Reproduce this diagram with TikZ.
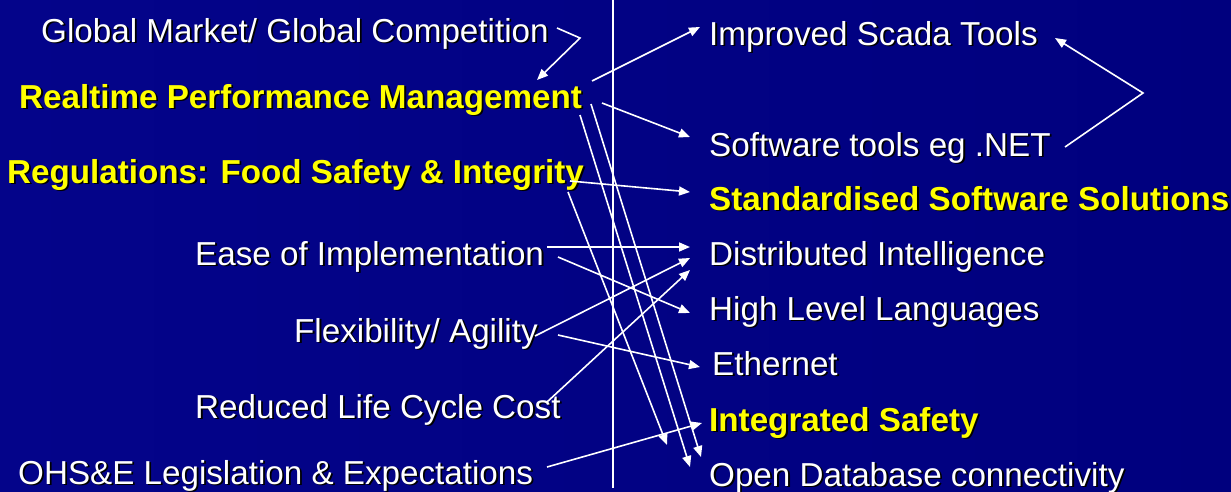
\documentclass[tikz,border=0pt]{standalone}
\usepackage{fontspec}
\setmainfont{Liberation Sans}
\usetikzlibrary{arrows.meta}
\newcommand\shtx[1]{\leavevmode\rlap{\kern1.8pt\raisebox{-1.8pt}{\color{black}#1}}#1}
\definecolor{bgl}{RGB}{4,4,138}
\definecolor{bgr}{RGB}{0,0,126}
\definecolor{ylw}{RGB}{255,255,0}
\begin{document}
\begin{tikzpicture}[x=1pt,y=-1pt,
 lbl/.style={anchor=base west, inner sep=0pt, text=white, font=\fontsize{33.2}{40}\selectfont},
 blbl/.style={lbl, text=ylw, font=\fontsize{33.2}{40}\selectfont\bfseries},
 conn/.style={draw=white, line width=1.6pt, -{Triangle[length=11pt,width=9pt]}},
 plainln/.style={draw=white, line width=1.6pt}]
\shade[left color=bgl,right color=bgr] (0,0) rectangle (1231,491);
\useasboundingbox (0,0) rectangle (1231,491);
% divider
\coordinate (vt) at (613,0);
\coordinate (vb) at (613,488);
\draw[plainln] (vt) -- (vb);
% left column
\node[lbl]  (gm)  at (41,42)  {\shtx{Global Market/ Global Competition}};
\node[blbl] (rpm) at (19,108) {\shtx{Realtime Performance Management}};
\node[blbl] (reg) at (7,183)  {\shtx{Regulations: Food Safety \& Integrity}};
\node[lbl]  (ease) at (195,265) {\shtx{Ease of Implementation}};
\node[lbl]  (flex) at (294,342) {\shtx{Flexibility/ Agility}};
\node[lbl]  (rlcc) at (195,418) {\shtx{Reduced Life Cycle Cost}};
\node[lbl]  (ohs) at (18,484) {\shtx{OHS\&E Legislation \& Expectations}};
% right column
\node[lbl]  (ist) at (709,45)  {\shtx{Improved Scada Tools}};
\node[lbl]  (stn) at (709,156) {\shtx{Software tools eg .NET}};
\node[blbl] (sss) at (709,210) {\shtx{Standardised Software Solutions}};
\node[lbl]  (di)  at (709,265) {\shtx{Distributed Intelligence}};
\node[lbl]  (hll) at (709,320) {\shtx{High Level Languages}};
\node[lbl]  (eth) at (712,375) {\shtx{Ethernet}};
\node[blbl] (is)  at (709,431) {\shtx{Integrated Safety}};
\node[lbl]  (odb) at (709,486) {\shtx{Open Database connectivity}};
% connector end points
\coordinate (gm-o) at (557,28);
\coordinate (gm-k) at (580,38);
\coordinate (rpm-i) at (537,80);
\coordinate (rpm-o1) at (592,81);
\coordinate (ist-i) at (700,27);
\coordinate (rpm-o2) at (602,103);
\coordinate (stn-i) at (690,137);
\coordinate (rpm-o3) at (580,115);
\coordinate (odb-i1) at (690,467);
\coordinate (rpm-o4) at (591,104);
\coordinate (odb-i2) at (701,457);
\coordinate (reg-o1) at (568,192);
\coordinate (is-i1) at (667,445);
\coordinate (reg-o2) at (570,181);
\coordinate (sss-i) at (690,192);
\coordinate (ease-o1) at (547,247);
\coordinate (di-i1) at (690,247);
\coordinate (ease-o2) at (558,257);
\coordinate (hll-i) at (690,313);
\coordinate (flex-o1) at (535,336);
\coordinate (di-i2) at (690,258);
\coordinate (rlcc-o) at (547,402);
\coordinate (di-i3) at (690,270);
\coordinate (flex-o2) at (558,335);
\coordinate (eth-i) at (700,367);
\coordinate (ohs-o) at (547,467);
\coordinate (is-i2) at (702,423);
\coordinate (stn-o) at (1065,147);
\coordinate (stn-k) at (1143,93);
\coordinate (ist-i2) at (1055,38);
% connectors
\draw[conn] (gm-o) -- (gm-k) -- (rpm-i);
\draw[conn] (rpm-o1) -- (ist-i);
\draw[conn] (rpm-o2) -- (stn-i);
\draw[conn] (rpm-o3) -- (odb-i1);
\draw[conn] (rpm-o4) -- (odb-i2);
\draw[conn] (reg-o1) -- (is-i1);
\draw[conn] (reg-o2) -- (sss-i);
\draw[conn] (ease-o1) -- (di-i1);
\draw[conn] (ease-o2) -- (hll-i);
\draw[conn] (flex-o1) -- (di-i2);
\draw[conn] (rlcc-o) -- (di-i3);
\draw[conn] (flex-o2) -- (eth-i);
\draw[conn] (ohs-o) -- (is-i2);
\draw[conn] (stn-o) -- (stn-k) -- (ist-i2);
\end{tikzpicture}
\end{document}
